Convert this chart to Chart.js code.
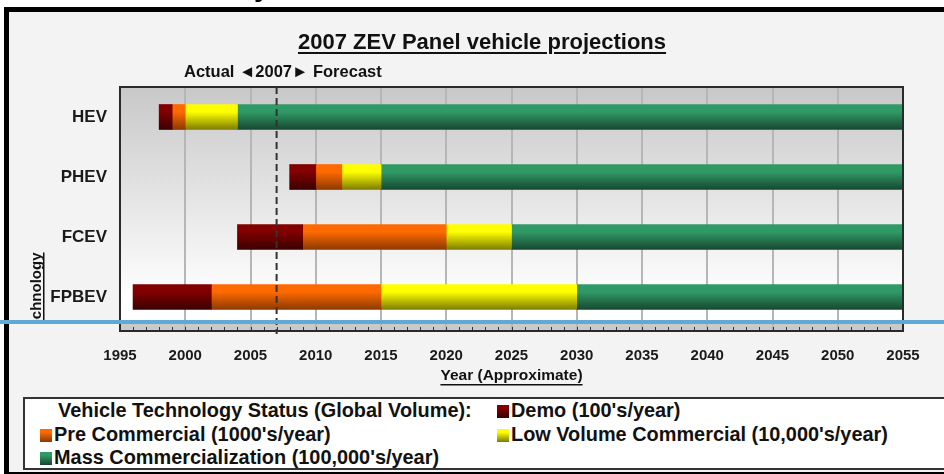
<!DOCTYPE html>
<html>
<head>
<meta charset="utf-8">
<script src="https://cdn.jsdelivr.net/npm/chart.js@4/dist/chart.umd.min.js"></script>
<style>
  body { margin:0; width:944px; height:474px; overflow:hidden; background:#fff; position:relative; font-family:'Liberation Sans', Arial, sans-serif; }
  #frame { position:absolute; left:4px; top:7px; width:960px; height:470px; border:5px solid #000; background:#f3f3f3; box-sizing:border-box; }
  #cut { position:absolute; left:254px; top:0; width:20px; height:7px; overflow:hidden; }
  #cut span { position:absolute; left:0; top:-27px; font:bold 28px 'Liberation Sans', Arial; line-height:28px; color:#000; }
  #chart { position:absolute; left:0; top:0; }
  #title { position:absolute; left:0; width:964px; top:29px; text-align:center; font-weight:bold; font-size:22px; color:#111; text-decoration:underline; text-underline-offset:3px; }
  #legend { position:absolute; left:23px; top:397px; width:940px; height:73px; border:2px solid #333; background:#fff; box-sizing:border-box; }
  .lg { position:absolute; font-weight:bold; font-size:19.9px; line-height:22px; color:#111; white-space:nowrap; }
  .sw { display:inline-block; width:12px; height:13px; margin-right:2px; vertical-align:-1px; }
  #blue { position:absolute; left:0; top:320px; width:944px; height:4px; background:#60a9d7; }
</style>
</head>
<body>
<div id="frame"></div>
<div id="cut"><span>y</span></div>
<canvas id="chart" width="944" height="474"></canvas>
<div id="title">2007 ZEV Panel vehicle projections</div>
<div id="legend"></div>
<div id="blue"></div>
<script>
const technologies = ['HEV', 'PHEV', 'FCEV', 'FPBEV'];
const statusLabels = ["Demo (100's/year)", "Pre Commercial (1000's/year)", "Low Volume Commercial (10,000's/year)", "Mass Commercialization (100,000's/year)"];
const demoYears      = [[1998, 1999], [2008, 2010], [2004, 2009], [1996, 2002]];
const preCommYears   = [[1999, 2000], [2010, 2012], [2009, 2020], [2002, 2015]];
const lowVolumeYears = [[2000, 2004], [2012, 2015], [2020, 2025], [2015, 2030]];
const massCommYears  = [[2004, 2055], [2015, 2055], [2025, 2055], [2030, 2055]];
const yearMin = 1995, yearMax = 2055, yearStep = 5;
const actualYear = 2007;

const statusTop    = ['#820000', '#ff6a00', '#ffff00', '#309a66'];
const statusBottom = ['#380000', '#8a3800', '#7a7a00', '#174530'];

const FONT = "'Liberation Sans', Arial, sans-serif";
const BAND = 4; // grijze tickstrook onder het plotgebied

// verticale gradient per balk; eerste pass heeft nog geen pixels, dan effen kleur
function barFill(i) {
  return ctx => {
    const y = ctx.chart.scales.y;
    if (!y || ctx.dataIndex == null) return statusTop[i];
    const cy = y.getPixelForValue(ctx.dataIndex);
    if (!isFinite(cy)) return statusTop[i];
    const g = ctx.chart.ctx.createLinearGradient(0, cy - 13, 0, cy + 13);
    g.addColorStop(0, statusTop[i]);
    g.addColorStop(0.3, statusTop[i]);
    g.addColorStop(1, statusBottom[i]);
    return g;
  };
}

const series = [demoYears, preCommYears, lowVolumeYears, massCommYears];

const decorPlugin = {
  id: 'decor',
  beforeDraw(c) {
    const { ctx, chartArea: a } = c;
    const g = ctx.createLinearGradient(0, a.top, 0, a.bottom - 28);
    g.addColorStop(0, '#c8c8c8');
    g.addColorStop(1, '#ffffff');
    ctx.save();
    ctx.fillStyle = g;
    ctx.fillRect(a.left, a.top, a.right - a.left, a.bottom - a.top);
    ctx.fillStyle = '#c9c9c9';
    ctx.fillRect(a.left, a.bottom - 3, a.right - a.left, 3 + BAND);
    ctx.restore();
  },
  afterDraw(c) {
    const { ctx, chartArea: a } = c;
    const x = c.scales.x;
    const bottom = a.bottom + BAND;
    ctx.save();
    // hoofd-gridlijnen door de strook
    ctx.strokeStyle = '#b6b6b6';
    ctx.lineWidth = 2;
    for (let yr = yearMin + yearStep; yr < yearMax; yr += yearStep) {
      const px = x.getPixelForValue(yr);
      ctx.beginPath(); ctx.moveTo(px, a.bottom); ctx.lineTo(px, bottom); ctx.stroke();
    }
    // jaar-tickjes onderin
    ctx.strokeStyle = '#333';
    ctx.lineWidth = 1;
    for (let yr = yearMin + 1; yr < yearMax; yr++) {
      const px = Math.round(x.getPixelForValue(yr)) + 0.5;
      ctx.beginPath(); ctx.moveTo(px, bottom - 4); ctx.lineTo(px, bottom); ctx.stroke();
    }
    // kader plotgebied
    ctx.strokeStyle = '#2a2a2a';
    ctx.lineWidth = 2;
    ctx.strokeRect(a.left, a.top, a.right - a.left, bottom - a.top);

    // 2007 stippellijn
    const xp = x.getPixelForValue(actualYear);
    ctx.beginPath();
    ctx.setLineDash([7, 4]);
    ctx.strokeStyle = '#333';
    ctx.lineWidth = 2;
    ctx.moveTo(xp, a.top);
    ctx.lineTo(xp, bottom + 3);
    ctx.stroke();
    ctx.setLineDash([]);

    ctx.fillStyle = '#111';
    ctx.font = 'bold 16.5px ' + FONT;
    ctx.textBaseline = 'middle';
    ctx.textAlign = 'left';
    ctx.fillText('Actual \u25C42007\u25BA Forecast', 184, 72);

    // x-as titel
    ctx.font = 'bold 15.5px ' + FONT;
    ctx.textAlign = 'center';
    const xt = 'Year (Approximate)';
    const cx = (a.left + a.right) / 2;
    ctx.fillText(xt, cx, 376);
    const w = ctx.measureText(xt).width;
    ctx.fillRect(cx - w / 2, 384, w, 1.5);

    // y-as titel, onderkant valt weg achter de blauwe lijn
    ctx.beginPath();
    ctx.rect(0, a.top, a.left, 320 - a.top);
    ctx.clip();
    ctx.translate(37, 294);
    ctx.rotate(-Math.PI / 2);
    ctx.font = 'bold 15px ' + FONT;
    ctx.textAlign = 'center';
    ctx.textBaseline = 'alphabetic';
    ctx.fillText('Technology', 0, 4);
    const tw = ctx.measureText('Technology').width;
    ctx.fillRect(-tw / 2, 6, tw, 1.5);
    ctx.restore();
  }
};

const chart = new Chart(document.getElementById('chart'), {
  type: 'bar',
  plugins: [decorPlugin],
  data: {
    labels: technologies,
    datasets: series.map((d, i) => ({
      label: statusLabels[i],
      data: d,
      backgroundColor: barFill(i),
      borderWidth: 0,
      borderSkipped: false,
      grouped: false,
      barThickness: 25
    }))
  },
  options: {
    indexAxis: 'y',
    responsive: false,
    animation: false,
    devicePixelRatio: 1,
    layout: { padding: { left: 0, top: 87, right: 41, bottom: 79 } },
    plugins: { legend: { display: false }, tooltip: { enabled: false } },
    scales: {
      x: {
        type: 'linear', min: yearMin, max: yearMax,
        afterFit: s => { s.height = 68; },
        ticks: { stepSize: yearStep, padding: 20, color: '#1a1a1a', font: { family: FONT, size: 15, weight: 'bold' }, maxRotation: 0, callback: v => String(v) },
        grid: { color: '#b6b6b6', lineWidth: 2, drawTicks: false },
        border: { display: false }
      },
      y: {
        type: 'category',
        afterFit: s => { s.width = 120; },
        ticks: { padding: 13, color: '#1a1a1a', font: { family: FONT, size: 17, weight: 'bold' } },
        grid: { display: false, drawTicks: false },
        border: { display: false }
      }
    }
  }
});
chart.update();

// legenda
const legend = [
  { text: 'Vehicle Technology Status (Global Volume):', left: 58, top: 399, sw: -1 },
  { text: statusLabels[0], left: 497, top: 399, sw: 0 },
  { text: statusLabels[1], left: 40, top: 423, sw: 1 },
  { text: statusLabels[2], left: 497, top: 423, sw: 2 },
  { text: statusLabels[3], left: 40, top: 446, sw: 3 }
];
legend.forEach(it => {
  const el = document.createElement('div');
  el.className = 'lg';
  el.style.left = it.left + 'px';
  el.style.top = it.top + 'px';
  if (it.sw >= 0) {
    const s = document.createElement('span');
    s.className = 'sw';
    s.style.background = `linear-gradient(${statusTop[it.sw]} 25%, ${statusBottom[it.sw]})`;
    el.appendChild(s);
  }
  el.appendChild(document.createTextNode(it.text));
  document.body.appendChild(el);
});
</script>
</body>
</html>
